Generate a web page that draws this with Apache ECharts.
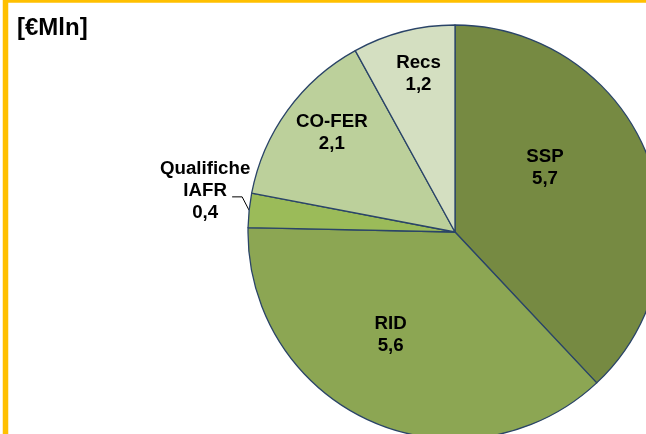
<!DOCTYPE html>
<html>
<head>
<meta charset="utf-8">
<script src="https://cdn.jsdelivr.net/npm/echarts@6/dist/echarts.min.js"></script>
<style>
html,body{margin:0;padding:0;background:#fff;}
#c{width:646px;height:434px;}
</style>
</head>
<body>
<div id="c"></div>
<script>
const categories = ['SSP', 'RID', 'Qualifiche\nIAFR', 'CO-FER', 'Recs'];
const values = [5.7, 5.6, 0.4, 2.1, 1.2];
const colors = ['#768A42', '#8CA653', '#9BBB59', '#BCD09B', '#D4DFC1'];
const labelOffsets = [[-9, -25], [-21, 6], [0, 0], [-37, -37], [-10, -55]];
const unitLabel = '[€Mln]';

const FONT = '"Liberation Sans", Arial, sans-serif';
const data = categories.map((name, i) => {
  const item = { name: name, value: values[i], itemStyle: { color: colors[i] } };
  if (i === 2) {
    item.label = { position: 'outside', align: 'center' };
    item.labelLine = { show: true, length: 8, length2: 10, lineStyle: { color: '#000', width: 1 } };
  } else {
    item.label = { position: 'inner', offset: labelOffsets[i] };
    item.labelLine = { show: false };
  }
  return item;
});

const chart = echarts.init(document.getElementById('c'), null, { renderer: 'canvas' });
chart.setOption({
  animation: false,
  backgroundColor: '#fff',
  title: {
    text: unitLabel,
    left: 12, top: 11,
    textStyle: { fontFamily: FONT, fontSize: 24, fontWeight: 'bold', color: '#000' }
  },
  graphic: [{
    type: 'rect',
    shape: { x: 5.5, y: 0, width: 800, height: 600 },
    style: { fill: 'none', stroke: '#FFC000', lineWidth: 5.5 },
    z: 100, silent: true
  }],
  series: [{
    type: 'pie',
    center: [455, 232],
    radius: [0, 207],
    startAngle: 90,
    clockwise: true,
    avoidLabelOverlap: false,
    data: data,
    itemStyle: { borderColor: '#2A4468', borderWidth: 1.3 },
    label: {
      show: true,
      formatter: p => p.name + '\n' + String(p.value).replace('.', ','),
      fontFamily: FONT, fontSize: 18.7, fontWeight: 'bold', color: '#000',
      lineHeight: 22, align: 'center'
    },
    emphasis: { disabled: true },
    labelLayout: function (params) {
      if (params.dataIndex !== 2 || !params.labelLinePoints) return {};
      const p0 = params.labelLinePoints[0];
      return {
        x: p0[0] - 44,
        y: p0[1] - 19.5,
        align: 'center',
        verticalAlign: 'middle',
        labelLinePoints: [
          [p0[0], p0[1]],
          [p0[0] - 7, p0[1] - 13.5],
          [p0[0] - 17, p0[1] - 13.5]
        ]
      };
    }
  }]
});
</script>
</body>
</html>
